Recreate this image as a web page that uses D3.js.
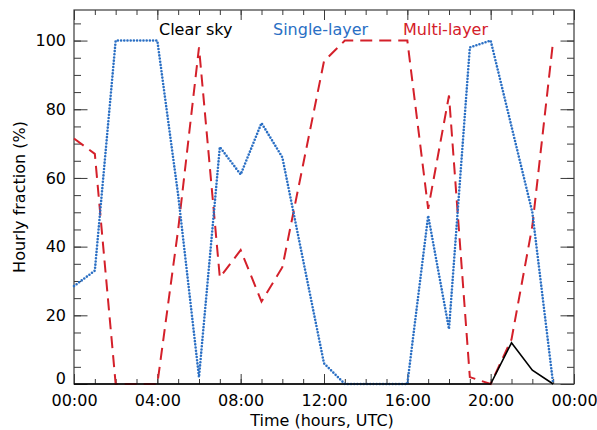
<!DOCTYPE html>
<html>
<head>
<meta charset="utf-8">
<script src="https://cdn.jsdelivr.net/npm/d3@7"></script>
<style>
  html, body { margin: 0; padding: 0; background: #fff; }
  svg { display: block; }
  text { font-family: "DejaVu Sans", sans-serif; }
</style>
</head>
<body>
<svg id="chart" width="597" height="430"></svg>
<script>
// ---- data (hourly, 00 UTC .. 23 UTC) ----
const hours = [0,1,2,3,4,5,6,7,8,9,10,11,12,13,14,15,16,17,18,19,20,21,22,23];
const clearSky    = [0,0,0,0,0,0,0,0,0,0,0,0,0,0,0,0,0,0,0,0,0,12,4,0];
const singleLayer = [28.5,33,100,100,100,55,2,69,61,76,66,36,6,0,0,0,0,49,16,98,100,75,50,0];
const multiLayer  = [71.5,67,0,0,0,45,98,31,39,24,34,64,94,100,100,100,100,51,84,2,0,13,46,100];
const xTickValues = [0,4,8,12,16,20,24];
const xTickLabels = ["00:00","04:00","08:00","12:00","16:00","20:00","00:00"];
const yTickValues = [0,20,40,60,80,100];
const seriesNames = ["Clear sky","Single-layer","Multi-layer"];

const svg = d3.select("#chart");
const L = 74, R = 574, T = 10, B = 384;
const x = d3.scaleLinear().domain([0,24]).range([L,R]);
const y = d3.scaleLinear().domain([0,108.9]).range([B,T]);
const axisColor = "#3a3a3a";

const xMinor = d3.range(0,25,1);
const yMinor = d3.range(0,110,5);

function styleAxis(g){
  g.select(".domain").remove();
  g.selectAll("line").attr("stroke", axisColor).attr("stroke-width",1);
  g.selectAll("text").attr("fill","#000").attr("font-size","16px");
}

// bottom
svg.append("g").attr("transform",`translate(0,${B})`)
  .call(d3.axisBottom(x).tickValues(xMinor).tickSize(-5).tickFormat(""))
  .call(styleAxis);
svg.append("g").attr("transform",`translate(0,${B})`)
  .call(d3.axisBottom(x).tickValues(xTickValues).tickSize(-10).tickPadding(11)
        .tickFormat((d,i)=>xTickLabels[i]))
  .call(styleAxis);
// top
svg.append("g").attr("transform",`translate(0,${T})`)
  .call(d3.axisTop(x).tickValues(xMinor).tickSize(-5).tickFormat(""))
  .call(styleAxis);
svg.append("g").attr("transform",`translate(0,${T})`)
  .call(d3.axisTop(x).tickValues(xTickValues).tickSize(-10).tickFormat(""))
  .call(styleAxis);
// left
svg.append("g").attr("transform",`translate(${L},0)`)
  .call(d3.axisLeft(y).tickValues(yMinor).tickSize(-7).tickFormat(""))
  .call(styleAxis);
svg.append("g").attr("transform",`translate(${L},0)`)
  .call(d3.axisLeft(y).tickValues(yTickValues).tickSize(-13.5).tickPadding(8))
  .call(styleAxis)
  .call(g => g.selectAll(".tick text").filter(d => d === 0).attr("dy","-0.05em"));
// right
svg.append("g").attr("transform",`translate(${R},0)`)
  .call(d3.axisRight(y).tickValues(yMinor).tickSize(-7).tickFormat(""))
  .call(styleAxis);
svg.append("g").attr("transform",`translate(${R},0)`)
  .call(d3.axisRight(y).tickValues(yTickValues).tickSize(-13.5).tickFormat(""))
  .call(styleAxis);

// frame
svg.append("rect").attr("x",L).attr("y",T).attr("width",R-L).attr("height",B-T)
  .attr("fill","none").attr("stroke",axisColor).attr("stroke-width",1.2);

// lines
const line = d3.line().x((d,i)=>x(hours[i])).y(d=>y(d));
svg.append("path").datum(multiLayer).attr("d",line)
  .attr("fill","none").attr("stroke","#d4202a").attr("stroke-width",2)
  .attr("stroke-dasharray","12,7");
svg.append("path").datum(singleLayer).attr("d",line)
  .attr("fill","none").attr("stroke","#2a6fc4").attr("stroke-width",2.6)
  .attr("stroke-linecap","round").attr("stroke-dasharray","0,3.2");
svg.append("path").datum(clearSky).attr("d",line)
  .attr("fill","none").attr("stroke","#000").attr("stroke-width",1.6);

// legend
const legendX = [159, 273, 403];
const legendColors = ["#000","#2a6fc4","#d4202a"];
svg.selectAll(".leg").data(seriesNames).enter().append("text")
  .attr("x",(d,i)=>legendX[i]).attr("y",35)
  .attr("font-size","16px").attr("fill",(d,i)=>legendColors[i])
  .text(d=>d);

// axis titles
svg.append("text").attr("x",322).attr("y",426).attr("text-anchor","middle")
  .attr("font-size","16px").text("Time (hours, UTC)");
svg.append("text").attr("transform","translate(25,197) rotate(-90)")
  .attr("text-anchor","middle").attr("font-size","16px").text("Hourly fraction (%)");
</script>
</body>
</html>
